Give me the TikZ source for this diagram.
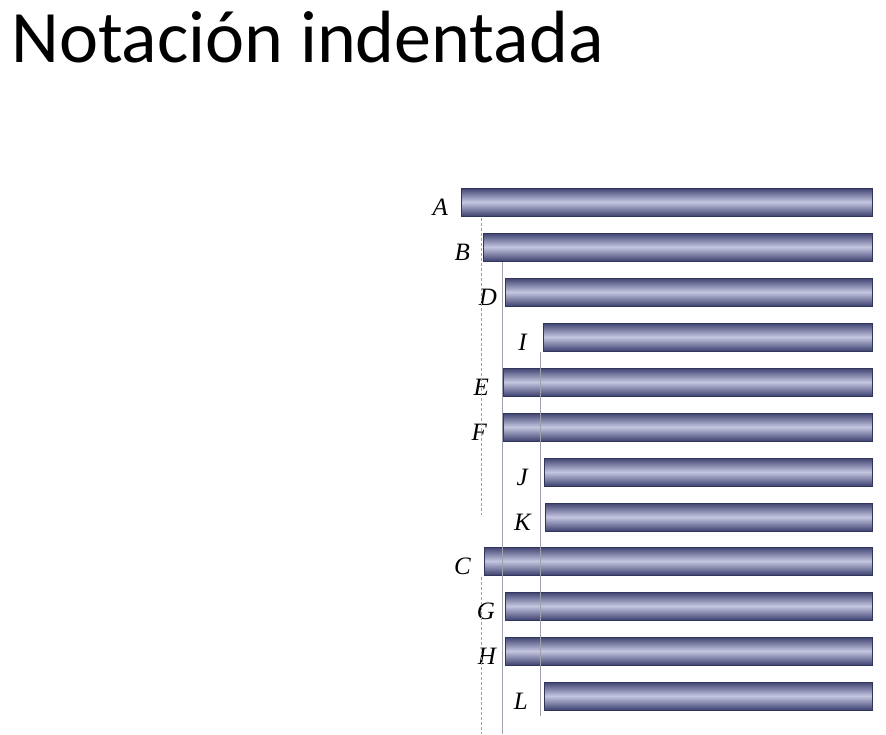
\documentclass[tikz,border=0pt]{standalone}
\usepackage{fontspec}
\setmainfont{Carlito}
\newfontfamily\tagfont{Liberation Serif}
\usepackage{xcolor}
\usepackage{tikz}
\usetikzlibrary{positioning}

\definecolor{barDark}{RGB}{62,66,112}
\definecolor{barLight}{RGB}{196,198,224}
\definecolor{guideGray}{RGB}{160,160,170}

\begin{document}
\begin{tikzpicture}[
    x=1pt, y=-1pt,
    bar/.style={draw=barDark!80!black, line width=0.6pt, anchor=west, minimum height=28pt, inner sep=0pt,
                top color=barDark, bottom color=barDark, middle color=barLight},
    tag/.style={inner sep=0pt, font=\tagfont\itshape\fontsize{25}{25}\selectfont, yshift=-5pt},
    guide/.style={draw=guideGray, line width=0.7pt},
    title/.style={anchor=base west, inner sep=0pt, font=\fontsize{74}{74}\selectfont}
]
    \useasboundingbox (0,0) rectangle (886,734);

    % Title
    \node[title] (title) at (11,62) {Notación indentada};

    % Bars, one per line of the indented list
    \node[bar, minimum width=411pt] (A) at (461,202) {};
    \node[bar, minimum width=389pt] (B) at (483,247) {};
    \node[bar, minimum width=367pt] (D) at (505,292) {};
    \node[bar, minimum width=329pt] (I) at (543,337) {};
    \node[bar, minimum width=369pt] (E) at (503,382) {};
    \node[bar, minimum width=369pt] (F) at (503,427) {};
    \node[bar, minimum width=328pt] (J) at (544,472) {};
    \node[bar, minimum width=327pt] (K) at (545,517) {};
    \node[bar, minimum width=388pt] (C) at (484,561) {};
    \node[bar, minimum width=367pt] (G) at (505,606) {};
    \node[bar, minimum width=367pt] (H) at (505,651) {};
    \node[bar, minimum width=328pt] (L) at (544,696) {};

    % Labels
    \node[tag, left=13pt of A] (tA) {A};
    \node[tag, left=13pt of B] (tB) {B};
    \node[tag, left=8pt of D] (tD) {D};
    \node[tag, left=16pt of I] (tI) {I};
    \node[tag, left=14pt of E] (tE) {E};
    \node[tag, left=16pt of F] (tF) {F};
    \node[tag, left=16pt of J] (tJ) {J};
    \node[tag, left=14pt of K] (tK) {K};
    \node[tag, left=13pt of C] (tC) {C};
    \node[tag, left=10pt of G] (tG) {G};
    \node[tag, left=9pt of H] (tH) {H};
    \node[tag, left=16pt of L] (tL) {L};

    % Indent guides
    \coordinate (g1a) at (481,218);
    \coordinate (g1b) at (481,515);
    \coordinate (g1c) at (481,577);
    \coordinate (g1d) at (481,734);
    \coordinate (g2a) at (502,262);
    \coordinate (g2b) at (502,734);
    \coordinate (g3a) at (540,352);
    \coordinate (g3b) at (540,716);
    \draw[guide, densely dashed] (g1a) -- (g1b);
    \draw[guide, densely dashed] (g1c) -- (g1d);
    \draw[guide] (g2a) -- (g2b);
    \draw[guide] (g3a) -- (g3b);
\end{tikzpicture}
\end{document}
